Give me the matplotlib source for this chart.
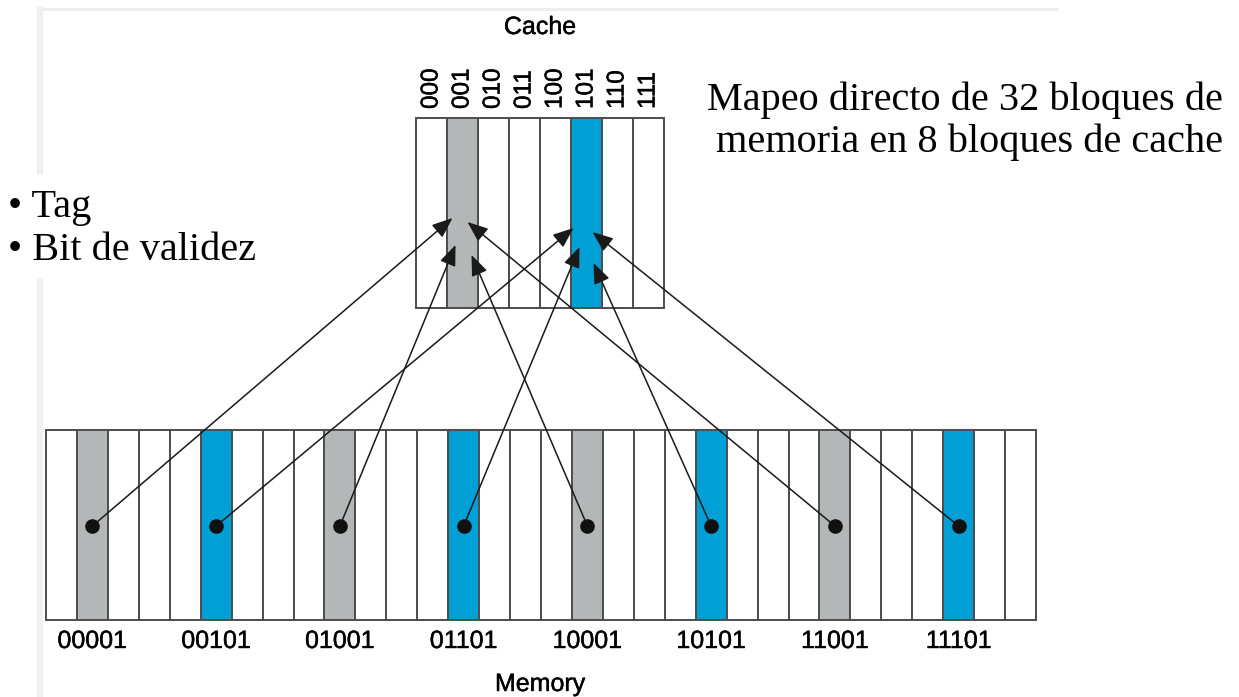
import matplotlib
matplotlib.use('Agg')
import matplotlib.pyplot as plt
import matplotlib.patheffects as pe
from matplotlib.patches import Rectangle

# data
cache_labels = ['000', '001', '010', '011', '100', '101', '110', '111']
memory_labels = ['00001', '00101', '01001', '01101', '10001', '10101', '11001', '11101']
memory_blocks = [1, 5, 9, 13, 17, 21, 25, 29]
n_memory = 32
n_cache = 8
title_lines = ['Mapeo directo de 32 bloques de', 'memoria en 8 bloques de cache']
bullets = ['• Tag', '• Bit de validez']

# layout (pixels)
mem_x0, mem_x1, mem_top, mem_bot = 46, 1036, 430, 620
cache_x0, cache_x1, cache_top, cache_bot = 416, 664, 118, 308
dot_y = 526
# where each arrow lands inside its cache cell (offset from centre, y)
tip_dx = [-10, -13, -7, -7, 9, 7, 5, 6]
tip_y = [218, 228, 245, 247, 255, 263, 222, 232]

grey = '#b3b7b7'
blue = '#00a0d6'
edge = '#4d4d4d'
bold = [pe.withStroke(linewidth=0.3, foreground='black')]

fig = plt.figure(figsize=(12.39, 6.97), dpi=100)
ax = fig.add_axes([0, 0, 1, 1])
ax.set_xlim(0, 1239)
ax.set_ylim(697, 0)
ax.axis('off')

# faint slide frame
ax.plot([37, 1058], [8.5, 8.5], color='#eeeeee', lw=2.2, solid_capstyle='butt')
ax.plot([40, 40], [7, 175], color='#f0f0f0', lw=4.5, solid_capstyle='butt')
ax.plot([40, 40], [278, 697], color='#f0f0f0', lw=4.5, solid_capstyle='butt')

cache_color = {b % n_cache: (grey if (b // 4) % 2 == 0 else blue) for b in memory_blocks}

# memory cells
mw = (mem_x1 - mem_x0) / n_memory
for i in range(n_memory):
    fc = 'white'
    if i in memory_blocks:
        fc = grey if (i // 4) % 2 == 0 else blue
    ax.add_patch(Rectangle((mem_x0 + i * mw, mem_top), mw, mem_bot - mem_top,
                           facecolor=fc, edgecolor=edge, lw=1.4))

# cache cells
cw = (cache_x1 - cache_x0) / n_cache
for i in range(n_cache):
    fc = cache_color.get(i, 'white')
    ax.add_patch(Rectangle((cache_x0 + i * cw, cache_top), cw, cache_bot - cache_top,
                           facecolor=fc, edgecolor=edge, lw=1.4))
    ax.text(cache_x0 + (i + 0.5) * cw, 109, cache_labels[i], rotation=90,
            ha='center', va='bottom', fontsize=17.5, family='Liberation Sans',
            path_effects=bold)

# arrows and dots
for k, (b, lab) in enumerate(zip(memory_blocks, memory_labels)):
    x = mem_x0 + (b + 0.5) * mw
    c = b % n_cache
    tx = cache_x0 + (c + 0.5) * cw + tip_dx[k]
    ax.annotate('', xy=(tx, tip_y[k]), xytext=(x, dot_y),
                arrowprops=dict(arrowstyle='-|>,head_length=0.7,head_width=0.28',
                                color='#1a1a1a', lw=1.1,
                                mutation_scale=18, shrinkA=0, shrinkB=0))
    ax.plot(x, dot_y, 'o', color='#111111', markersize=9.5, zorder=5)
    ax.text(x, 641, lab, ha='center', va='center', fontsize=18, family='Liberation Sans',
            path_effects=bold)

ax.text(540, 27, 'Cache', ha='center', va='center', fontsize=18, family='Liberation Sans',
        path_effects=bold)
ax.text(540, 684, 'Memory', ha='center', va='center', fontsize=18, family='Liberation Sans',
        path_effects=bold)

ax.text(965, 100, title_lines[0], ha='center', va='center', fontsize=29,
        family='Liberation Serif')
ax.text(970, 142, title_lines[1], ha='center', va='center', fontsize=29,
        family='Liberation Serif')
ax.text(8, 207, bullets[0], ha='left', va='center', fontsize=29, family='Liberation Serif')
ax.text(8, 250, bullets[1], ha='left', va='center', fontsize=29, family='Liberation Serif')

fig.savefig('out.png', dpi=100)
